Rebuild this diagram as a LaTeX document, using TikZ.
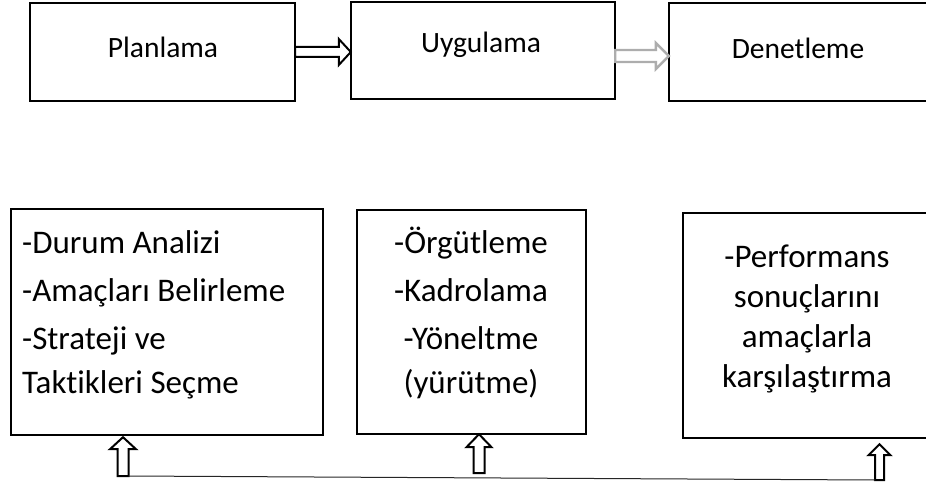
\documentclass[tikz,border=0pt]{standalone}
\usepackage{fontspec}
\setmainfont[Ligatures=NoCommon]{Carlito}
\usetikzlibrary{calc}

% horizontal block arrow: tail, tip, shaft half-height, head half-height, head length
\newcommand\blockarrowH[5]{%
  ($(#1)+(0,#3)$) -- ($(#2)+(-#5,#3)$) -- ($(#2)+(-#5,#4)$) -- (#2)
  -- ($(#2)+(-#5,-#4)$) -- ($(#2)+(-#5,-#3)$) -- ($(#1)+(0,-#3)$) -- cycle}
% vertical block arrow pointing up: tail, tip, shaft half-width, head half-width, head length
\newcommand\blockarrowV[5]{%
  ($(#1)+(-#3,0)$) -- ($(#2)+(-#3,#5)$) -- ($(#2)+(-#4,#5)$) -- (#2)
  -- ($(#2)+(#4,#5)$) -- ($(#2)+(#3,#5)$) -- ($(#1)+(#3,0)$) -- cycle}

\begin{document}
\begin{tikzpicture}[x=1pt,y=-1pt,
  every node/.style={inner sep=0pt},
  title/.style={font=\fontsize{29.5}{36}\selectfont},
  detail/.style={font=\fontsize{33}{40}\selectfont},
  box/.style={draw=black, line width=2.4pt, fill=white},
  hollow/.style={draw=black, line width=2pt, fill=white, line join=miter},
  hollowgray/.style={draw=black!32, line width=2.4pt, fill=white, line join=miter},
  link/.style={draw=black!85, line width=1pt}]
\useasboundingbox (0,0) rectangle (926,487);

% top row: stages
\draw[box] (30,3) rectangle (295,101);
\node (plan) at (162.5,52) [minimum width=265pt, minimum height=98pt] {};
\node[title] (plantxt) at (163,47) {Planlama};

\draw[box] (351,2) rectangle (615,99);
\node (uyg) at (483,50.5) [minimum width=264pt, minimum height=97pt] {};
\node[title] (uygtxt) at (481,45) {Uygulama};

\draw[box] (669,3) rectangle (945,101);
\node (den) at (807,52) [minimum width=276pt, minimum height=98pt] {};
\node[title] (dentxt) at (798,48) {Denetleme};

% arrows between stages
\coordinate (a1s) at (plan.east);
\coordinate (a1e) at (uyg.west |- plan.east);
\draw[hollow] \blockarrowH{a1s}{a1e}{5}{13}{12};
\coordinate (a2s) at ($(uyg.east)+(0,5.5)$);
\coordinate (a2e) at (den.west |- a2s);
\draw[hollowgray] \blockarrowH{a2s}{a2e}{6}{13}{13};

% bottom row: activities (base anchor = baseline of the last line)
\draw[box] (11,209) rectangle (323,435);
\node (b1) at (167,322) [minimum width=312pt, minimum height=226pt] {};
\node[detail] (b1txt) [anchor=base west, align=left] at (22,393)
  {-Durum Analizi\\[8pt]-Amaçları Belirleme\\[8pt]-Strateji ve\\[4pt]Taktikleri Seçme};

\draw[box] (357,210) rectangle (586,434);
\node (b2) at (471.5,322) [minimum width=229pt, minimum height=224pt] {};
\node[detail] (b2txt) [anchor=base, align=center] at (471,393)
  {-Örgütleme\\[8pt]-Kadrolama\\[8pt]-Yöneltme\\[4pt](yürütme)};

\draw[box] (683,213) rectangle (935,438);
\node (b3) at (809,325.5) [minimum width=252pt, minimum height=225pt] {};
\node[detail] (b3txt) [align=center] at (807,319)
  {-Performans\\sonuçlarını\\amaçlarla\\karşılaştırma};

% feedback arrows below the activity boxes
\coordinate (t1) at (123,476);
\coordinate (t2) at (479,473);
\coordinate (t3) at (879.5,480);
\coordinate (p1) at ($(t1 |- b1.south)+(0,2)$);
\coordinate (p2) at (t2 |- b2.south);
\coordinate (p3) at ($(t3 |- b3.south)+(0,6)$);
\draw[hollow] \blockarrowV{t1}{p1}{5.5}{13}{12};
\draw[hollow] \blockarrowV{t2}{p2}{5.5}{12.5}{13};
\draw[hollow] \blockarrowV{t3}{p3}{4.5}{11}{11};
\coordinate (l1) at ($(t1)+(5.5,0)$);
\coordinate (l3) at ($(t3)+(-4.5,0)$);
\draw[link] (l1) -- (l3);
\end{tikzpicture}
\end{document}
